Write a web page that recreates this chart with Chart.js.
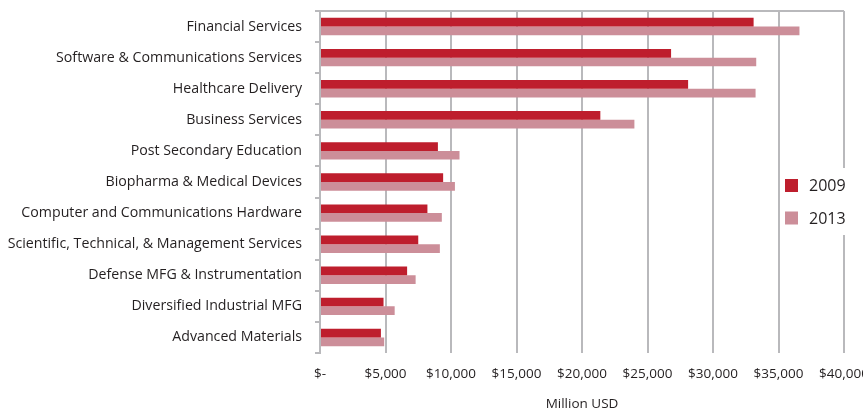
<!DOCTYPE html>
<html>
<head>
<meta charset="utf-8">
<script src="https://cdn.jsdelivr.net/npm/chart.js@4"></script>
<style>
  body { margin: 0; background: #fff; }
  #wrap { width: 863px; height: 412px; position: relative; }
</style>
</head>
<body>
<div id="wrap"><canvas id="industryChart"></canvas></div>
<script>
// categories and values (Million USD)
const categories = [
  'Financial Services',
  'Software & Communications Services',
  'Healthcare Delivery',
  'Business Services',
  'Post Secondary Education',
  'Biopharma & Medical Devices',
  'Computer and Communications Hardware',
  'Scientific, Technical, & Management Services',
  'Defense MFG & Instrumentation',
  'Diversified Industrial MFG',
  'Advanced Materials'
];
const values2009 = [33100, 26800, 28100, 21400, 9000, 9400, 8200, 7500, 6650, 4850, 4650];
const values2013 = [36600, 33300, 33250, 24000, 10650, 10300, 9300, 9150, 7300, 5700, 4900];
const seriesLabels = ['2009', '2013'];
const xTicks = [0, 5000, 10000, 15000, 20000, 25000, 30000, 35000, 40000];

const gridColor = '#b9b9bc';
const textColor = '#231f20';
const font = '"Open Sans", "Noto Sans", sans-serif';

// legend drawn on top of the plot, like the original
const legendPlugin = {
  id: 'floatLegend',
  afterDraw(chart) {
    const ctx = chart.ctx;
    ctx.save();
    ctx.fillStyle = '#fff';
    ctx.fillRect(834, 168, 20, 67);
    chart.data.datasets.forEach((ds, i) => {
      const y = 185.5 + i * 32.5;
      ctx.fillStyle = ds.backgroundColor;
      ctx.fillRect(785, y - 6.5, 13, 13);
      ctx.fillStyle = textColor;
      ctx.font = '16px ' + font;
      ctx.textBaseline = 'middle';
      ctx.textAlign = 'left';
      ctx.fillText(ds.label, 809, y + 1);
    });
    ctx.restore();
  }
};

const ctx = document.getElementById('industryChart').getContext('2d');
new Chart(ctx, {
  type: 'bar',
  data: {
    labels: categories,
    datasets: [{
      label: seriesLabels[0],
      data: values2009,
      backgroundColor: '#be1e2d',
      categoryPercentage: 0.56,
      barPercentage: 1.0
    }, {
      label: seriesLabels[1],
      data: values2013,
      backgroundColor: '#cc8e99',
      categoryPercentage: 0.56,
      barPercentage: 1.0
    }]
  },
  options: {
    indexAxis: 'y',
    responsive: true,
    maintainAspectRatio: false,
    animation: false,
    layout: { padding: { top: 11, right: 19, left: 0, bottom: 0 } },
    plugins: {
      legend: { display: false },
      tooltip: { enabled: false }
    },
    scales: {
      x: {
        min: 0,
        max: 40000,
        afterBuildTicks: (scale) => { scale.ticks = xTicks.map(v => ({ value: v })); },
        afterFit: (scale) => { scale.height = 59; scale.paddingRight = 0; scale.paddingLeft = 0; },
        border: { display: false },
        grid: { color: gridColor, lineWidth: 2, drawTicks: false },
        ticks: {
          color: textColor,
          font: { family: font, size: 13.5 },
          padding: 13,
          maxRotation: 0,
          callback: (v) => v === 0 ? '$-' : '$' + v.toLocaleString('en-US')
        },
        title: {
          display: true,
          text: 'Million USD',
          color: textColor,
          font: { family: font, size: 13.5 },
          padding: { top: 6, bottom: 0 }
        }
      },
      y: {
        afterFit: (scale) => { scale.width = 320; scale.paddingTop = 0; scale.paddingBottom = 0; },
        border: { display: true, color: gridColor, width: 2 },
        grid: {
          offset: true,
          color: (c) => c.index === 0 ? gridColor : 'transparent',
          tickColor: gridColor,
          lineWidth: 2,
          tickLength: 5
        },
        ticks: {
          color: textColor,
          font: { family: font, size: 14.2 },
          padding: 13
        }
      }
    }
  },
  plugins: [legendPlugin]
});
</script>
</body>
</html>
